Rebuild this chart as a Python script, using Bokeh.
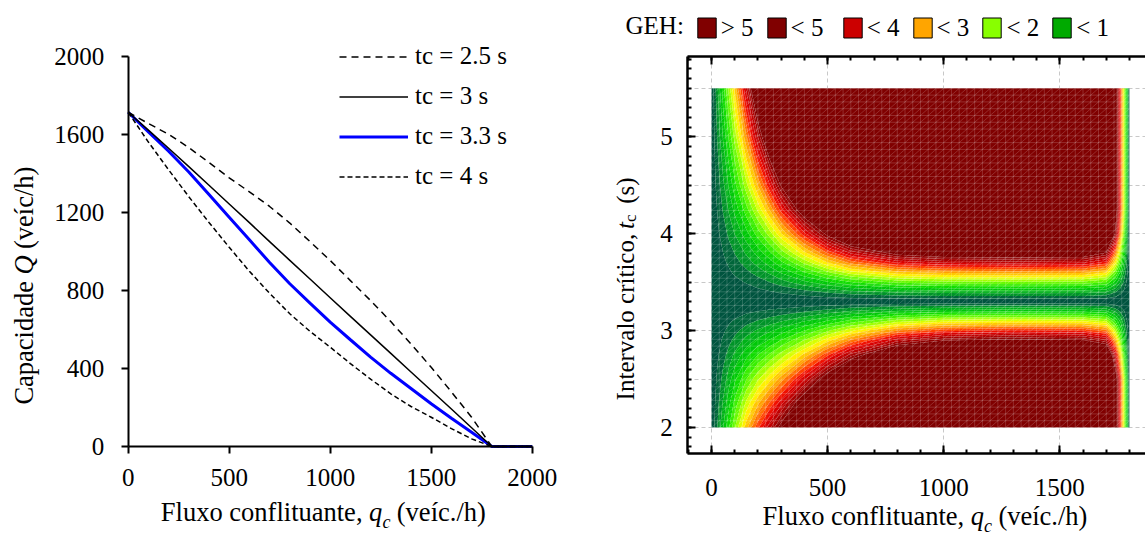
import numpy as np
from bokeh.plotting import figure
from bokeh.layouts import row
from bokeh.models import (Legend, LegendItem, Label, SingleIntervalTicker, LinearAxis, Grid,
                          Range1d, FixedTicker, CustomJSTickFormatter)
from bokeh.embed import file_html
from bokeh.resources import INLINE

FONT = "Liberation Serif"

# ---------------- left panel data ----------------
qc_cap = [0, 100, 200, 300, 400, 500, 600, 700, 800, 900, 1000, 1100, 1200, 1300, 1400, 1500, 1600, 1700, 1800, 2000]
cap_tc25 = [1713, 1655, 1600, 1532, 1455, 1377, 1305, 1230, 1145, 1050, 953, 850, 748, 640, 525, 406, 280, 150, 0, 0]
cap_tc3 = [1713, 1621, 1528, 1434, 1339, 1243, 1147, 1050, 954, 858, 762, 667, 572, 477, 382, 287, 192, 96, 0, 0]
cap_tc33 = [1713, 1612, 1513, 1407, 1291, 1175, 1059, 943, 834, 735, 637, 547, 458, 375, 297, 219, 145, 73, 0, 0]
cap_tc4 = [1713, 1560, 1418, 1280, 1148, 1021, 898, 785, 680, 590, 509, 425, 345, 270, 205, 150, 92, 39, 0, 0]
series_labels = ["tc = 2.5 s", "tc = 3 s", "tc = 3.3 s", "tc = 4 s"]
left_xticks = [0, 500, 1000, 1500, 2000]
left_yticks = [0, 400, 800, 1200, 1600, 2000]

# ---------------- right panel data (GEH) ----------------
geh_qc = [0, 25, 50, 75, 100, 150, 200, 250, 300, 400, 500, 600, 800, 1000, 1300, 1600, 1700, 1740, 1760, 1775, 1790, 1800]
geh_tc = [2.0, 2.25, 2.5, 2.75, 2.9, 3.0, 3.1, 3.2, 3.3, 3.4, 3.5, 3.6, 3.7, 3.8, 4.0, 4.25, 4.5, 5.0, 5.5]
geh_values = [
    [0, 0.50, 0.99, 1.47, 1.98, 2.90, 3.69, 4.41, 5.20, 6.98, 9.09, 11.3, 15.1, 17.1, 17.8, 17.4, 15.7, 5.5, 3.8, 2.4, 1.1, 0],
    [0, 0.40, 0.79, 1.18, 1.58, 2.32, 2.95, 3.53, 4.16, 5.58, 7.27, 9.06, 12.1, 13.7, 14.2, 13.9, 12.5, 5.5, 3.8, 2.4, 1.1, 0],
    [0, 0.30, 0.59, 0.89, 1.19, 1.74, 2.21, 2.65, 3.12, 4.19, 5.46, 6.80, 9.10, 10.3, 10.7, 10.4, 9.41, 5.5, 3.8, 2.4, 1.03, 0],
    [0, 0.20, 0.40, 0.60, 0.80, 1.17, 1.50, 1.79, 2.11, 2.83, 3.68, 4.59, 6.14, 6.94, 7.21, 7.05, 6.35, 4.22, 2.83, 1.76, 0.69, 0],
    [0, 0.15, 0.29, 0.43, 0.57, 0.84, 1.07, 1.28, 1.51, 2.02, 2.64, 3.29, 4.39, 4.97, 5.16, 5.04, 4.55, 3.02, 2.02, 1.26, 0.50, 0],
    [0, 0.11, 0.21, 0.32, 0.42, 0.62, 0.79, 0.95, 1.12, 1.50, 1.95, 2.43, 3.25, 3.67, 3.81, 3.73, 3.36, 2.23, 1.50, 0.93, 0.37, 0],
    [0, 0.07, 0.14, 0.21, 0.28, 0.41, 0.52, 0.62, 0.73, 0.98, 1.27, 1.59, 2.12, 2.40, 2.49, 2.44, 2.20, 1.46, 0.98, 0.61, 0.24, 0],
    [0, 0.03, 0.07, 0.10, 0.13, 0.20, 0.25, 0.30, 0.35, 0.47, 0.61, 0.77, 1.02, 1.16, 1.20, 1.17, 1.06, 0.70, 0.47, 0.29, 0.12, 0],
    [0, 0, 0, 0, 0, 0, 0, 0, 0, 0, 0, 0, 0, 0, 0, 0, 0, 0, 0, 0, 0, 0],
    [0, 0.02, 0.04, 0.06, 0.08, 0.12, 0.17, 0.23, 0.29, 0.42, 0.55, 0.67, 0.81, 0.86, 0.88, 0.86, 0.78, 0.52, 0.35, 0.22, 0.08, 0],
    [0, 0.04, 0.09, 0.13, 0.18, 0.27, 0.38, 0.50, 0.64, 0.93, 1.22, 1.49, 1.81, 1.92, 1.95, 1.92, 1.73, 1.15, 0.77, 0.48, 0.19, 0],
    [0, 0.07, 0.14, 0.21, 0.29, 0.44, 0.61, 0.80, 1.03, 1.48, 1.95, 2.38, 2.88, 3.05, 3.10, 3.05, 2.75, 1.83, 1.23, 0.76, 0.30, 0],
    [0, 0.10, 0.20, 0.29, 0.40, 0.61, 0.86, 1.12, 1.43, 2.06, 2.72, 3.32, 4.01, 4.26, 4.33, 4.26, 3.84, 2.55, 1.71, 1.06, 0.42, 0],
    [0, 0.13, 0.25, 0.38, 0.51, 0.79, 1.10, 1.44, 1.85, 2.66, 3.52, 4.28, 5.19, 5.50, 5.59, 5.50, 4.96, 3.29, 2.21, 1.38, 0.54, 0],
    [0, 0.19, 0.37, 0.56, 0.76, 1.16, 1.62, 2.12, 2.72, 3.91, 5.17, 6.30, 7.62, 8.09, 8.22, 8.09, 7.29, 4.84, 3.25, 2.02, 0.80, 0],
    [0, 0.26, 0.53, 0.79, 1.08, 1.65, 2.31, 3.02, 3.87, 5.56, 7.36, 8.96, 10.8, 11.5, 11.7, 11.5, 10.4, 5.5, 3.8, 2.4, 1.1, 0],
    [0, 0.35, 0.69, 1.04, 1.41, 2.16, 3.02, 3.95, 5.06, 7.27, 9.62, 11.7, 14.2, 15.0, 15.3, 15.0, 13.6, 5.5, 3.8, 2.4, 1.1, 0],
    [0, 0.52, 1.03, 1.55, 2.10, 3.22, 4.51, 5.89, 7.54, 10.9, 14.4, 17.5, 21.2, 22.4, 22.8, 22.4, 20.2, 5.5, 3.8, 2.4, 1.1, 0],
    [0, 0.69, 1.39, 2.08, 2.82, 4.33, 6.07, 7.92, 10.2, 14.6, 19.3, 23.5, 28.5, 30.2, 30.7, 30.2, 27.2, 5.5, 3.8, 2.4, 1.1, 0],
]
geh_levels = [-1, 0.25, 0.5, 0.75, 1.0, 1.25, 1.5, 1.75, 2.0, 2.25, 2.5, 2.75, 3.0, 3.25,
              3.5, 3.75, 4.0, 4.25, 4.5, 4.75, 5.0, 1000]
geh_colors = ["#00543F", "#00663A", "#009428", "#00B218", "#00C808", "#10DC00", "#38EE00", "#66FA00",
              "#A0FF00", "#D8FF00", "#FFF000", "#FFC800", "#FFA000", "#FF7000", "#FF4000", "#F01000",
              "#D80000", "#C00000", "#A80000", "#900000", "#800000"]
geh_legend_labels = ["> 5", "< 5 ", "< 4", "< 3", "< 2", "< 1"]
geh_legend_colors = ["#800000", "#800000", "#CC0000", "#FFA500", "#88FF00", "#00AA00"]
right_xticks_grid = [0, 500, 1000, 1500]

H = 537
W1, W2 = 568, 577
LFS = "26.5px"   # axis-label font size
SFS = "18px"     # subscript font size


def lab(p, x, y, text, **kw):
    opts = dict(text_font=FONT, text_font_size=LFS, text_color="black",
                x_units="screen", y_units="screen")
    opts.update(kw)
    p.add_layout(Label(x=x, y=y, text=text, **opts))


def style_axis(ax, size="25px"):
    ax.major_label_text_font = FONT
    ax.major_label_text_font_size = size
    ax.major_label_text_color = "black"
    ax.axis_line_color = "black"
    ax.major_tick_line_color = "black"
    ax.minor_tick_line_color = "black"


def bare_figure(width, x_range, y_range):
    p = figure(width=width, height=H, x_range=x_range, y_range=y_range,
               x_axis_location=None, y_axis_location=None,
               output_backend="svg", toolbar_location=None,
               min_border=0, min_border_left=0, min_border_right=0,
               min_border_top=0, min_border_bottom=0)
    for g in p.grid:
        g.visible = False
    p.outline_line_color = None
    p.background_fill_color = "white"
    p.border_fill_color = "white"
    return p


# ================= left figure (frame = whole canvas, axes at fixed locations) =================
# pixel mapping: qc 0 -> x 127.7, 2000 -> 531.7 ; Q 0 -> y 446, 2000 -> 55.7
sx1 = 404.0 / 2000
sy1 = 390.3 / 2000
p1 = bare_figure(W1, Range1d(-127.7 / sx1, (W1 - 127.7) / sx1),
                 Range1d(-(H - 446) / sy1, 446 / sy1))

ax1x = LinearAxis(ticker=FixedTicker(ticks=left_xticks), fixed_location=0, bounds=(0, 2000))
ax1y = LinearAxis(ticker=FixedTicker(ticks=left_yticks), fixed_location=0, bounds=(0, 2000))
for ax in (ax1x, ax1y):
    style_axis(ax)
    ax.minor_tick_line_color = None
    ax.major_tick_out = 7
    ax.major_tick_in = 0
    ax.major_tick_line_width = 2
    ax.axis_line_width = 2
ax1x.major_label_standoff = 15
ax1y.major_label_standoff = 17
p1.add_layout(ax1x, "below")
p1.add_layout(ax1y, "left")

r33 = p1.line(qc_cap, cap_tc33, line_color="#0000FF", line_width=3)
r3 = p1.line(qc_cap, cap_tc3, line_color="black", line_width=1.5)
r25 = p1.line(qc_cap, cap_tc25, line_color="black", line_width=1.5, line_dash="7 5")
r4 = p1.line(qc_cap, cap_tc4, line_color="black", line_width=1.5, line_dash="5 3")

leg1 = Legend(items=[LegendItem(label=series_labels[0], renderers=[r25]),
                     LegendItem(label=series_labels[1], renderers=[r3]),
                     LegendItem(label=series_labels[2], renderers=[r33]),
                     LegendItem(label=series_labels[3], renderers=[r4])],
              location=(339, H - 190.5), padding=0, margin=0, spacing=11,
              glyph_width=69, glyph_height=29, label_height=29, label_standoff=7,
              border_line_color=None, background_fill_alpha=0,
              label_text_font=FONT, label_text_font_size="25px", label_text_color="black")
p1.add_layout(leg1)

# x label (left):  Fluxo conflituante, q_c (veíc./h)
lab(p1, 362.0, H - 526.7, "Fluxo conflituante,", text_align="right")
lab(p1, 368.6, H - 526.7, "q", text_font_style="italic")
lab(p1, 381.9, H - 531.7, "c", text_font_style="italic", text_font_size=SFS)
lab(p1, 396.3, H - 526.7, "(veíc./h)")
# y label (left):  Capacidade Q (veíc/h)
lab(p1, 23, H - 280.5, "Capacidade", angle=np.pi / 2, text_align="right", text_baseline="middle")
lab(p1, 23, H - 274.0, "Q", angle=np.pi / 2, text_font_style="italic", text_baseline="middle")
lab(p1, 23, H - 248.5, "(veíc/h)", angle=np.pi / 2, text_baseline="middle")

# ================= right figure =================
# pixel mapping (window): qc 0 -> x 711, 0.2322 px/unit ; tc 2 -> y 427, 96.9 px/unit
OX = W1
sx2 = 0.2322
sy2 = 96.9
xl, xr = -102, 1900          # box of the contour plot (data units)
yb, yt = 1.73, 5.83
p2 = bare_figure(W2, Range1d(-(711 - OX) / sx2, (W2 - (711 - OX)) / sx2),
                 Range1d(2 - (H - 427) / sy2, 2 + 427 / sy2))

# dashed grid limited to the box
gkw = dict(grid_line_color="#C8C8C8", grid_line_dash="4 3", grid_line_width=1)
use_cross = "cross_bounds" in Grid.properties()
if use_cross:
    p2.add_layout(Grid(dimension=0, ticker=FixedTicker(ticks=right_xticks_grid), bounds=(xl, xr),
                       cross_bounds=(yb, yt), **gkw))
    p2.add_layout(Grid(dimension=1, ticker=SingleIntervalTicker(interval=0.5), bounds=(yb, yt),
                       cross_bounds=(xl, xr), **gkw))
else:
    skw = dict(line_color="#C8C8C8", line_dash="4 3", line_width=1)
    p2.segment(x0=right_xticks_grid, y0=yb, x1=right_xticks_grid, y1=yt, **skw)
    yg = [2.0, 2.5, 3.0, 3.5, 4.0, 4.5, 5.0, 5.5]
    p2.segment(x0=xl, y0=yg, x1=xr, y1=yg, **skw)

z = np.array(geh_values, dtype=float)
p2.contour(geh_qc, geh_tc, z, geh_levels, fill_color=geh_colors, line_color=None)

# mesh overlay of the contour plot
nxm, nym = 54, 50
mx = np.linspace(geh_qc[0], geh_qc[-1], nxm + 1)
my = np.linspace(geh_tc[0], geh_tc[-1], nym + 1)
dxm = mx[1] - mx[0]
dym = my[1] - my[0]
mesh_kw = dict(line_color="white", line_alpha=0.25, line_width=0.7)
p2.segment(x0=mx, y0=geh_tc[0], x1=mx, y1=geh_tc[-1], **mesh_kw)
p2.segment(x0=geh_qc[0], y0=my, x1=geh_qc[-1], y1=my, **mesh_kw)
dx0, dy0, dx1, dy1 = [], [], [], []
for k in range(-nym + 1, nxm):
    if k >= 0:
        sx, sy, t = mx[k], my[0], min(nxm - k, nym)
    else:
        sx, sy, t = mx[0], my[-k], min(nxm, nym + k)
    dx0.append(sx); dy0.append(sy)
    dx1.append(sx + t * dxm); dy1.append(sy + t * dym)
p2.segment(x0=dx0, y0=dy0, x1=dx1, y1=dy1, **mesh_kw)

# frame axes (left, bottom, top), ticks pointing inwards
ax2b = LinearAxis(ticker=SingleIntervalTicker(interval=500, num_minor_ticks=5), fixed_location=yb,
                  bounds=(xl, xr))
ax2t = LinearAxis(ticker=SingleIntervalTicker(interval=500, num_minor_ticks=5), fixed_location=yt,
                  bounds=(xl, xr), formatter=CustomJSTickFormatter(code="return ''"))
ax2l = LinearAxis(ticker=SingleIntervalTicker(interval=1, num_minor_ticks=10), fixed_location=xl,
                  bounds=(yb, yt))
for ax in (ax2b, ax2t, ax2l):
    style_axis(ax)
    ax.major_tick_in = 8
    ax.major_tick_out = 0
    ax.minor_tick_in = 4
    ax.minor_tick_out = 0
    ax.major_tick_line_width = 2
    ax.minor_tick_line_width = 2
    ax.axis_line_width = 2.5
ax2b.major_label_standoff = 25
ax2l.major_label_standoff = 15
p2.add_layout(ax2b, "below")
p2.add_layout(ax2t, "above")
p2.add_layout(ax2l, "left")

# GEH legend (legend-only proxies: NaN geometry, nothing drawn in the plot)
geh_items = []
for lbl, col in zip(geh_legend_labels, geh_legend_colors):
    r = p2.quad(left=[np.nan], right=[np.nan], top=[np.nan], bottom=[np.nan],
                fill_color=col, line_color="black", line_width=1)
    geh_items.append(LegendItem(label=lbl, renderers=[r]))
leg2 = Legend(items=geh_items, orientation="horizontal", location=(694.7 - OX, H - 41.5),
              padding=0, margin=0, spacing=11, glyph_width=23, glyph_height=25, label_standoff=3,
              border_line_color=None, background_fill_alpha=0,
              label_text_font=FONT, label_text_font_size="25px", label_text_color="black")
p2.add_layout(leg2)
lab(p2, 625 - OX, H - 25, "GEH:", text_baseline="middle", text_font_size="25px")

# axis labels (right)
lab(p2, 963.7 - OX, H - 530, "Fluxo conflituante,", text_align="right")
lab(p2, 970.3 - OX, H - 530, "q", text_font_style="italic")
lab(p2, 983.5 - OX, H - 535, "c", text_font_style="italic", text_font_size=SFS)
lab(p2, 997.9 - OX, H - 530, "(veíc./h)")
lab(p2, 625 - OX, H - 233.3, "Intervalo crítico,", angle=np.pi / 2, text_align="right",
    text_baseline="middle", text_font_size="25px")
lab(p2, 625 - OX, H - 228.5, "t", angle=np.pi / 2, text_font_style="italic", text_baseline="middle",
    text_font_size="25px")
lab(p2, 630 - OX, H - 221.5, "c", angle=np.pi / 2, text_font_size="17px", text_baseline="middle")
lab(p2, 625 - OX, H - 203.3, "(s)", angle=np.pi / 2, text_baseline="middle", text_font_size="25px")

layout = row(p1, p2)
open("out.html", "w").write(file_html(layout, INLINE))
